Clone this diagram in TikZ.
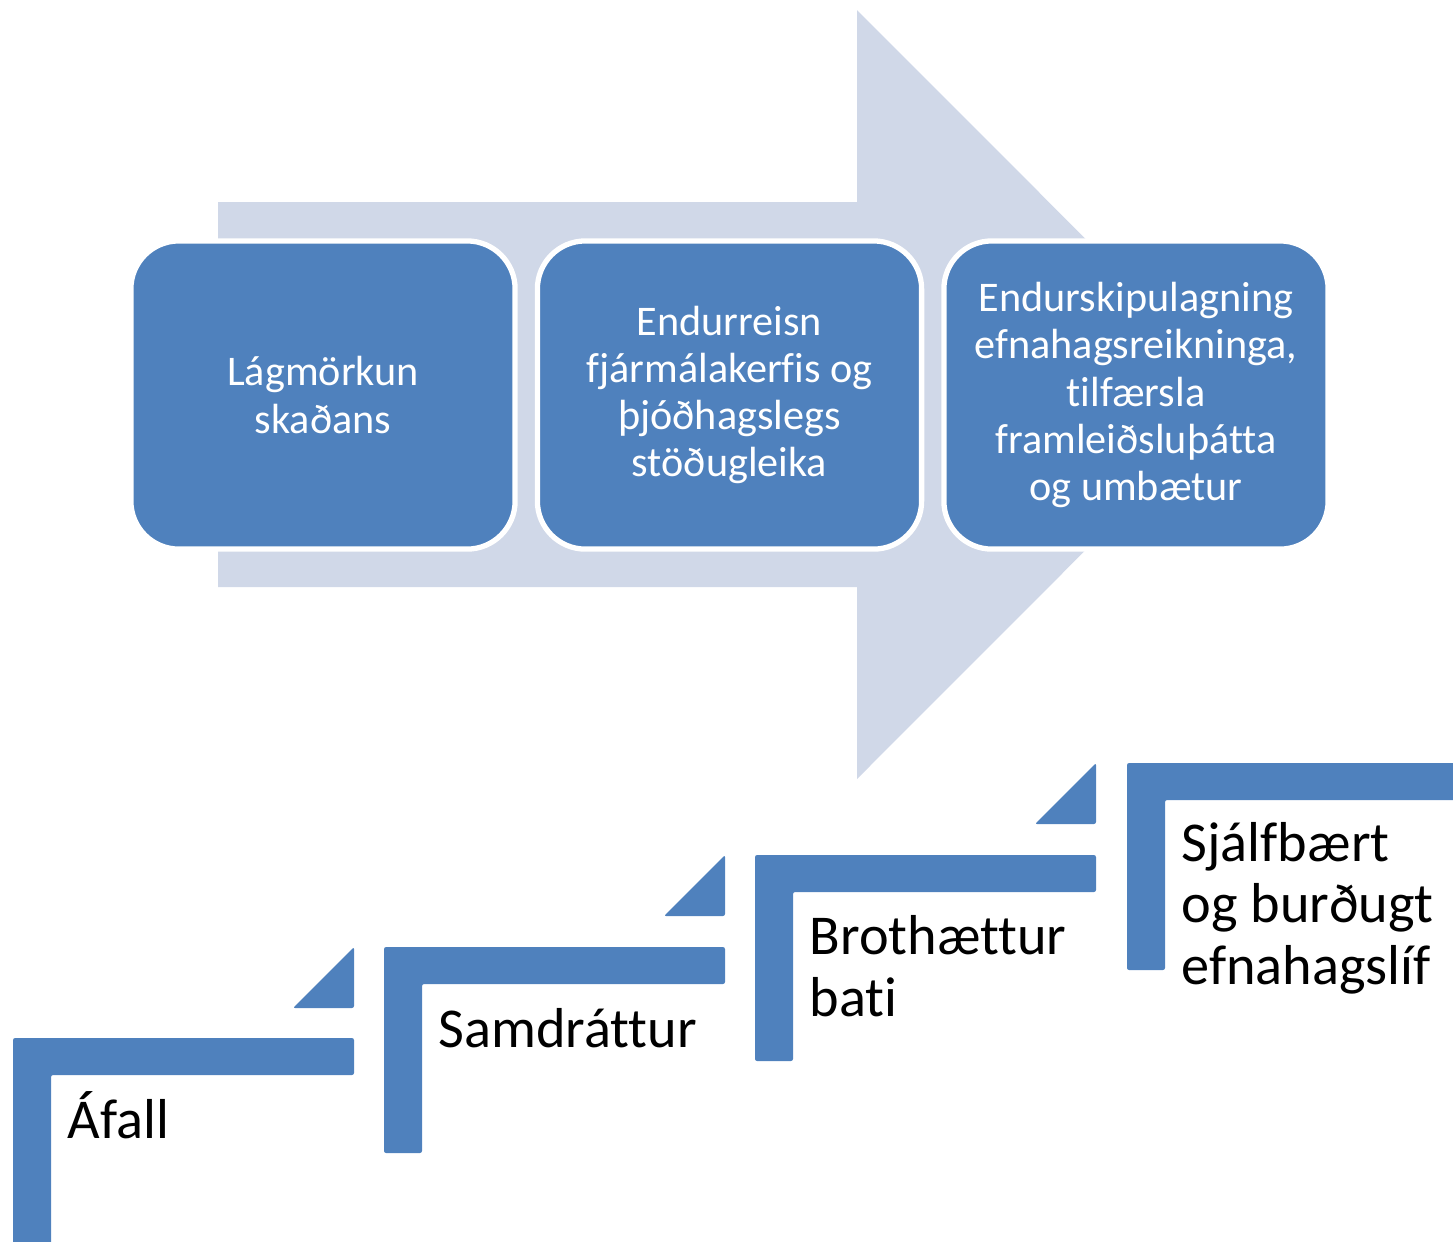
\documentclass[tikz,border=0pt]{standalone}
\usepackage{fontspec}
\setmainfont{Carlito}[Ligatures={NoCommon}]
\usepackage{xcolor}
\usetikzlibrary{positioning,calc}
\definecolor{stageblue}{HTML}{4F81BD}
\definecolor{arrowgray}{HTML}{D0D8E8}

\begin{document}
\begin{tikzpicture}[
    x=0.01cm, y=-0.01cm,
    node distance=0.17cm,
    stagebox/.style={
        rectangle, draw=white, line width=1.5pt, fill=stageblue,
        minimum width=3.84cm, minimum height=3.08cm,
        rounded corners=0.48cm, inner sep=0pt,
        text=white, align=center, font=\fontsize{12}{13.4}\selectfont
    },
    stair/.style={fill=stageblue, rounded corners=0.6pt},
    steplabel/.style={
        anchor=base west, align=left, inner sep=0pt,
        font=\fontsize{16}{17.4}\selectfont
    }
]
\useasboundingbox (0,0) rectangle (1453,1241);

% Background arrow
\fill[arrowgray] (218,202) -- (857,202) -- (857,10) -- (1241,394.5)
    -- (857,779) -- (857,587) -- (218,587) -- cycle;

% Stage boxes
\node[stagebox] (damage) at (323,395) {Lágmörkun\\skaðans};
\node[stagebox, right=of damage] (restore) {Endurreisn\\fjármálakerfis og\\þjóðhagslegs\\stöðugleika};
\node[stagebox, right=of restore] (reform) {Endurskipulagning\\efnahagsreikninga,\\tilfærsla\\framleiðsluþátta\\og umbætur};

% Steps - L shapes
\fill[stair] (13,1038) -- (354,1038) -- (354,1075) -- (51,1075) -- (51,1244) -- (13,1244) -- cycle;
\fill[stair] (384,947) -- (725,947) -- (725,984) -- (422,984) -- (422,1153) -- (384,1153) -- cycle;
\fill[stair] (755,855) -- (1096,855) -- (1096,892) -- (793,892) -- (793,1061) -- (755,1061) -- cycle;
\fill[stair] (1127,763) -- (1468,763) -- (1468,800) -- (1165,800) -- (1165,970) -- (1127,970) -- cycle;

% Steps - small triangles
\fill[stair] (354,947) -- (354,1008) -- (293,1008) -- cycle;
\fill[stair] (725,855) -- (725,916) -- (664,916) -- cycle;
\fill[stair] (1096,763) -- (1096,824) -- (1035,824) -- cycle;

% Step labels (base = last line)
\node[steplabel] (shock) at (67,1138) {Áfall};
\node[steplabel] (contraction) at (438,1047) {Samdráttur};
\node[steplabel] (recovery) at (809,1016) {Brothættur\\bati};
\node[steplabel] (sustain) at (1181,984) {Sjálfbært\\og burðugt\\efnahagslíf};

\end{tikzpicture}
\end{document}
